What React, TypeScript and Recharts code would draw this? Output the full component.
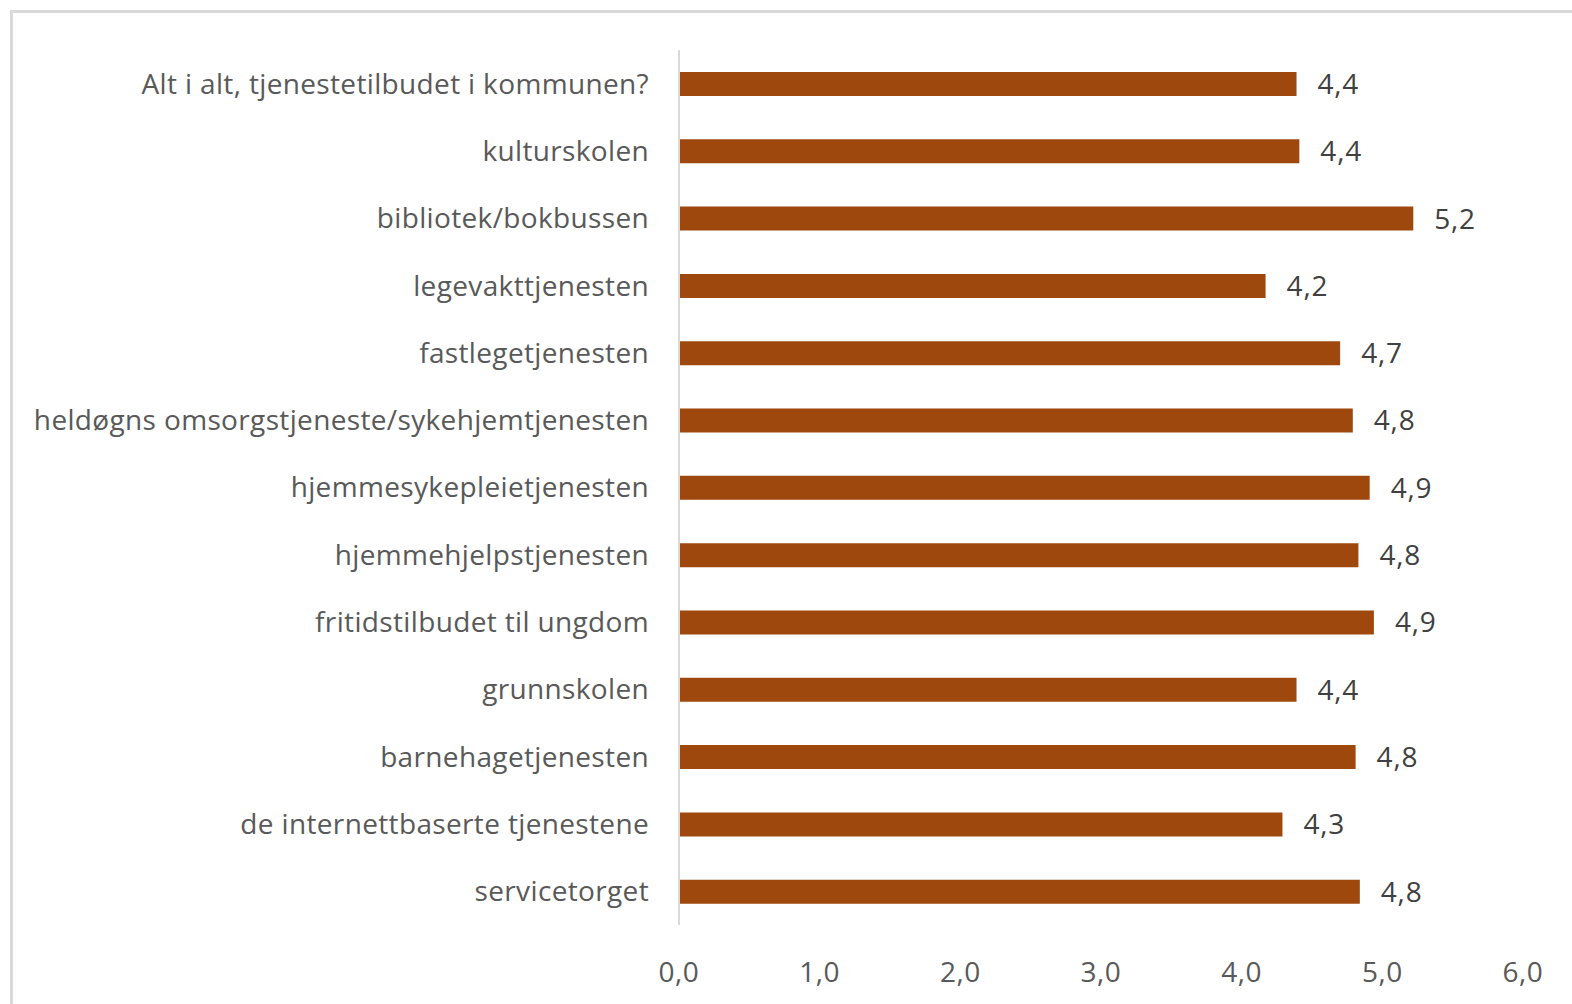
import { BarChart, Bar, XAxis, YAxis, LabelList } from 'recharts'

const categories = [
  'Alt i alt, tjenestetilbudet i kommunen?',
  'kulturskolen',
  'bibliotek/bokbussen',
  'legevakttjenesten',
  'fastlegetjenesten',
  'heldøgns omsorgstjeneste/sykehjemtjenesten',
  'hjemmesykepleietjenesten',
  'hjemmehjelpstjenesten',
  'fritidstilbudet til ungdom',
  'grunnskolen',
  'barnehagetjenesten',
  'de internettbaserte tjenestene',
  'servicetorget',
]

const scores = [4.39, 4.41, 5.22, 4.17, 4.7, 4.79, 4.91, 4.83, 4.94, 4.39, 4.81, 4.29, 4.84]

const xTicks = [0, 1, 2, 3, 4, 5, 6]

const fmt = (v: number) => v.toFixed(1).replace('.', ',')

const data = categories.map((name, i) => ({ name, score: scores[i] }))

const FONT = '"Open Sans", sans-serif'

export default function App() {
  return (
    <div
      style={{
        position: 'absolute',
        left: 10,
        top: 10,
        width: 1562,
        height: 994,
        boxSizing: 'border-box',
        borderTop: '3px solid #d9d9d9',
        borderLeft: '3px solid #d9d9d9',
        background: '#fff',
        overflow: 'hidden',
      }}
    >
      <BarChart
        width={1559}
        height={991}
        data={data}
        layout="vertical"
        margin={{ top: 37, right: 49, left: 0, bottom: 28 }}
        style={{ fontFamily: FONT }}
      >
        <XAxis
          type="number"
          domain={[0, 6]}
          ticks={xTicks}
          tickFormatter={fmt}
          axisLine={false}
          tickLine={false}
          tickMargin={31}
          height={51}
          tick={{ fill: '#595959', fontSize: 28, letterSpacing: 0.5 }}
        />
        <YAxis
          type="category"
          dataKey="name"
          width={666}
          axisLine={{ stroke: '#d9d9d9', strokeWidth: 2 }}
          tickLine={false}
          tickMargin={24}
          interval={0}
          tick={{ fill: '#595959', fontSize: 28, letterSpacing: 0.35 }}
        />
        <Bar dataKey="score" fill="#9e480e" barSize={24} isAnimationActive={false}>
          <LabelList
            dataKey="score"
            position="right"
            offset={21}
            formatter={(v: any) => fmt(Number(v))}
            style={{ fill: '#404040', fontSize: 28, fontFamily: FONT, letterSpacing: 0.8 }}
          />
        </Bar>
      </BarChart>
    </div>
  )
}
